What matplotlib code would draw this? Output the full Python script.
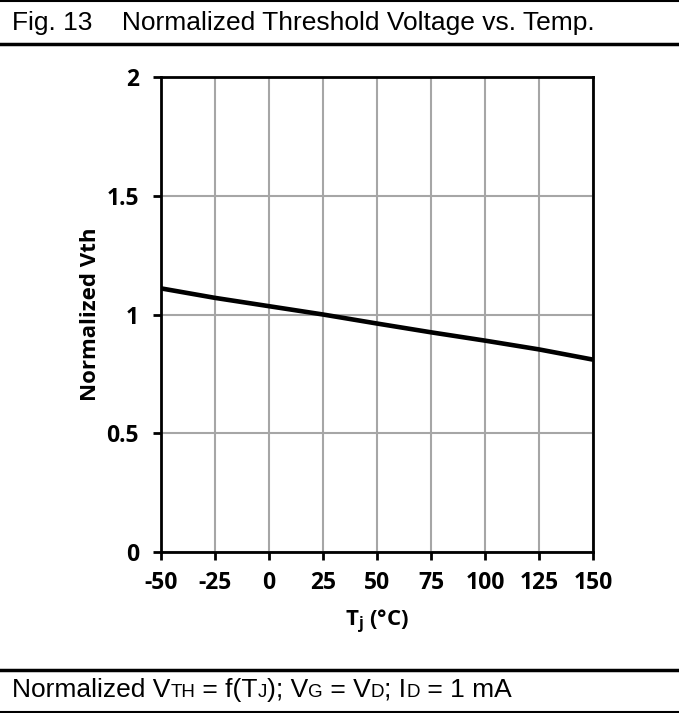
import matplotlib
matplotlib.use("Agg")
import matplotlib.pyplot as plt
from matplotlib.lines import Line2D
from matplotlib.offsetbox import TextArea, HPacker, AnchoredOffsetbox

plt.rcParams["axes.unicode_minus"] = False
plt.rcParams["mathtext.fontset"] = "custom"
plt.rcParams["mathtext.bf"] = "Open Sans:bold"
plt.rcParams["mathtext.rm"] = "Open Sans"

temps = [-50, -25, 0, 25, 50, 75, 100, 125, 150]
vth_norm = [1.11, 1.07, 1.035, 1.0, 0.962, 0.925, 0.89, 0.853, 0.81]
x_ticks = [-50, -25, 0, 25, 50, 75, 100, 125, 150]
y_ticks = [0, 0.5, 1, 1.5, 2]
y_tick_labels = ["0", "0.5", "1", "1.5", "2"]

W, H = 679, 713
fig = plt.figure(figsize=(W / 100, H / 100), dpi=100)

def fy(p):
    return 1 - p / H

# frame lines
for yp, lw in [(1, 1.5), (44, 2.5), (670, 2.5), (712, 1.5)]:
    fig.add_artist(Line2D([0, 1], [fy(yp), fy(yp)], color="black", lw=lw,
                          transform=fig.transFigure))

fig.text(12 / W, fy(23), "Fig. 13    Normalized Threshold Voltage vs. Temp.",
         family="Liberation Sans", fontsize=19, va="center", ha="left")

# bottom caption with subscripts
big = dict(family="Liberation Sans", fontsize=19)
small = dict(family="Liberation Sans", fontsize=13.5)
parts = [("Normalized V", big), ("TH", small), (" = f(T", big), ("J", small),
         ("); V", big), ("G", small), (" = V", big), ("D", small),
         ("; I", big), ("D", small), (" = 1 mA", big)]
areas = [TextArea(t, textprops=p) for t, p in parts]
pack = HPacker(children=areas, align="baseline", pad=0, sep=0)
ab = AnchoredOffsetbox(loc="center left", child=pack, pad=0, frameon=False,
                       bbox_to_anchor=(12 / W, fy(690)),
                       bbox_transform=fig.transFigure, borderpad=0)
fig.add_artist(ab)

ax = fig.add_axes([161 / W, 1 - 552 / H, (593 - 161) / W, (552 - 77) / H])
ax.plot(temps, vth_norm, color="black", lw=3.3, solid_capstyle="butt", zorder=3)
ax.set_xlim(-50, 150)
ax.set_ylim(0, 2)
ax.set_xticks(x_ticks)
ax.set_yticks(y_ticks)
ax.set_yticklabels(y_tick_labels)
ax.grid(True, color="#a6a6a6", lw=1.5)
ax.set_axisbelow(True)
for s in ax.spines.values():
    s.set_color("black")
    s.set_linewidth(2)
ax.tick_params(direction="out", length=6, width=2, colors="black", labelsize=16.5)
ax.tick_params(axis="y", pad=10)
ax.tick_params(axis="x", pad=8)
for lab in ax.get_xticklabels() + ax.get_yticklabels():
    lab.set_fontweight("bold")
    lab.set_family("Open Sans")
ax.set_ylabel("Normalized Vth", fontsize=16, fontweight="bold", family="Open Sans",
              labelpad=4)
ax.set_xlabel(r"T$\mathbf{_j}$ (°C)", fontsize=16, fontweight="bold",
              family="Open Sans", labelpad=9)

fig.savefig("out.png", dpi=100)
